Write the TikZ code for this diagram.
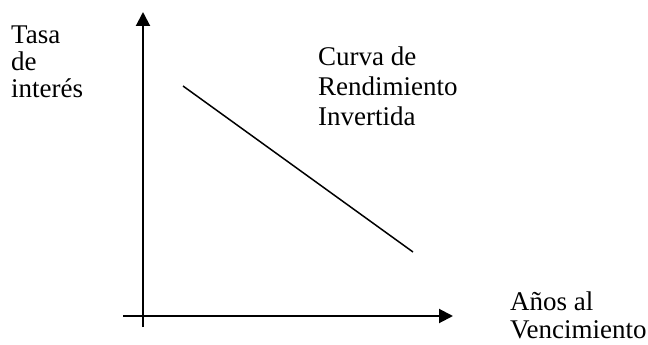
\documentclass[tikz,border=0pt]{standalone}
\usepackage{fontspec}
\setmainfont{Liberation Serif}
\usetikzlibrary{positioning, arrows.meta}

\begin{document}
\begin{tikzpicture}[x=1pt, y=-1pt,
    lbl/.style={font=\fontsize{27}{#1}\selectfont, align=left, inner sep=0pt, anchor=base west},
    lbl/.default=28,
    axis/.style={-{Triangle[length=14pt, width=14pt]}, line width=2pt}]
    \useasboundingbox (0,0) rectangle (648,345);

    \coordinate (ybot) at (143,327);
    \coordinate (ytop) at (143,12);
    \coordinate (xleft) at (123,316);
    \coordinate (xright) at (453,316);
    \coordinate (c1) at (183,86);
    \coordinate (c2) at (413,252);

    \draw[axis] (ybot) -- (ytop);
    \draw[axis] (xleft) -- (xright);
    \draw[line width=1.5pt] (c1) -- (c2);

    % anchor base = last line
    \node[lbl=27] (tasa) at (11,97) {Tasa\\de\\interés};
    \node[lbl=30] (curva) at (318,125) {Curva de\\Rendimiento\\Invertida};
    \node[lbl=28] (anos) at (510,338) {Años al\\Vencimiento};


\end{tikzpicture}
\end{document}
